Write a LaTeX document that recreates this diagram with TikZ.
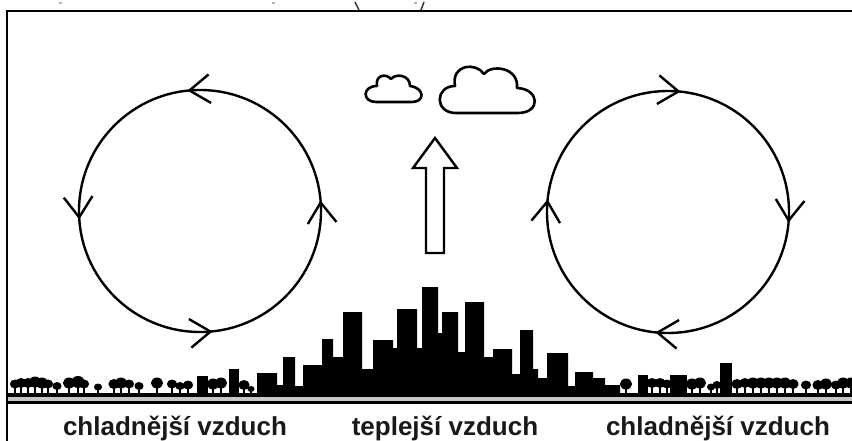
\documentclass[tikz,border=0pt]{standalone}
\usepackage{fontspec}
\setmainfont{Liberation Sans}
\usetikzlibrary{calc}

% small lollipop tree: x, crown centre y, crown radius
\newcommand\urbtree[3]{%
  \fill (#1-1.3,#2) rectangle (#1+1.3,394);
  \fill (#1,#2) ellipse[x radius=#3+0.6,y radius=#3];}

\begin{document}
\begin{tikzpicture}[x=1pt,y=-1pt,
  ink/.style={line width=2.4pt,black},
  chev/.style={line width=2.4pt,black,line join=miter},
  outline/.style={line width=2.6pt,black,line join=round},
  lbl/.style={anchor=base,inner sep=0pt,text=black!90,
    font=\fontsize{26}{30}\selectfont\bfseries}]
\useasboundingbox (0,0) rectangle (852,441);
\fill[white] (0,0) rectangle (852,441);

% cut-off marks along the upper edge
\draw[line width=1.5pt,black!80] (355,2) -- (359,10);
\draw[line width=1.5pt,black!80] (424,2) -- (421,10);
\fill[black!30] (59,2) rectangle (62,4);
\fill[black!30] (272,2) rectangle (275,4);
\fill[black!30] (414,2) rectangle (417,4);

% frame
\draw[line width=2.7pt,line join=miter] (7,441) -- (7,11) -- (852,11);

% circulation cells
\coordinate (cl) at (200,211);
\coordinate (cr) at (668,212);
\draw[ink] (cl) circle[radius=121];
\draw[ink] (cr) circle[radius=121];
\foreach \a in {4,95,183,275}{
  \pgfmathsetmacro\p{-\a+125}\pgfmathsetmacro\q{-\a+55}
  \draw[chev] ($(cl)+(-\a:121)$) +(\p:25) -- +(0,0) -- +(\q:25);}
\foreach \a in {85,356,265,175}{
  \pgfmathsetmacro\p{-\a-125}\pgfmathsetmacro\q{-\a-55}
  \draw[chev] ($(cr)+(-\a:121)$) +(\p:25) -- +(0,0) -- +(\q:25);}

% clouds
\draw[outline] (376,102) -- (412,102)
  .. controls (425,102) and (425,88) .. (410,86)
  .. controls (410,75) and (396,73) .. (391,79)
  .. controls (386,73) and (375,75) .. (377,86)
  .. controls (362,86) and (362,102) .. (376,102) -- cycle;
\draw[outline] (456,113) -- (518,113)
  .. controls (541,113) and (540,89) .. (517,88)
  .. controls (519,67) and (491,64) .. (484,74)
  .. controls (476,62) and (451,64) .. (455,86)
  .. controls (435,86) and (434,113) .. (456,113) -- cycle;

% rising warm air
\draw[line width=2.4pt,line join=miter] (435,138) -- (457,168) -- (444,168)
  -- (444,253) -- (426,253) -- (426,168) -- (413,168) -- cycle;

% ground strip
\fill (8,392.5) rectangle (852,396.5);
\fill[black!22] (8,396.5) rectangle (852,400.5);
\fill (8,400.5) rectangle (852,403.5);

% city skyline
\fill (257,396) |- (277,373) |- (283,385) |- (295,357) |- (303,386)
  |- (322,365) |- (333,339) |- (343,357) |- (362,312) |- (373,369)
  |- (393,340) |- (397,348) |- (417,309) |- (422,348) |- (438,287)
  |- (442,333) |- (458,312) |- (465,352) |- (484,302) |- (493,357)
  |- (512,349) |- (520,374) |- (533,330) |- (538,369) |- (547,378)
  |- (568,353) |- (575,386) |- (593,372) |- (605,378) |- (620,385)
  -- (620,396) -- cycle;

% smaller buildings among the trees
\fill (197,376) rectangle (208,394);
\fill (229,369) rectangle (239,394);
\fill (638,375) rectangle (648,394);
\fill (670,375) rectangle (687,394);
\fill (720,363) rectangle (732,394);

% trees, left
\foreach \x/\y/\r in {15/384/4.5,21/383/5,28/383/5,35/382/5.5,42/383/5.5,
  48/384/4.5,57/386/4,69/383/5.5,78/382/6,84/384/4.5,98/387/3.5,
  114/384/5,121/383/5.5,129/384/4.5,139/386/4,157/383/5.5,172/384/4.5,
  180/386/4,188/385/4.5,213/384/5.5,221/383/5.5,244/385/5,251/389/3}
  {\urbtree{\x}{\y}{\r}}
% trees, right
\foreach \x/\y/\r in {626/384/5.5,652/383/5,660/383/5,667/384/4.5,
  692/384/5.5,700/383/5.5,711/387/3.5,717/385/4,737/384/5,745/383/5,
  753/383/5.5,761/383/5.5,769/383/5.5,777/383/5.5,785/383/5.5,793/384/5,
  806/385/4.5,818/385/5,826/384/5.5,836/385/4.5,843/383/5.5,851/383/5.5}
  {\urbtree{\x}{\y}{\r}}

% labels
\node[lbl] (coolL) at (175,435) {chladnější vzduch};
\node[lbl] (warm) at (445,435) {teplejší vzduch};
\node[lbl] (coolR) at (718,435) {chladnější vzduch};
\end{tikzpicture}
\end{document}
